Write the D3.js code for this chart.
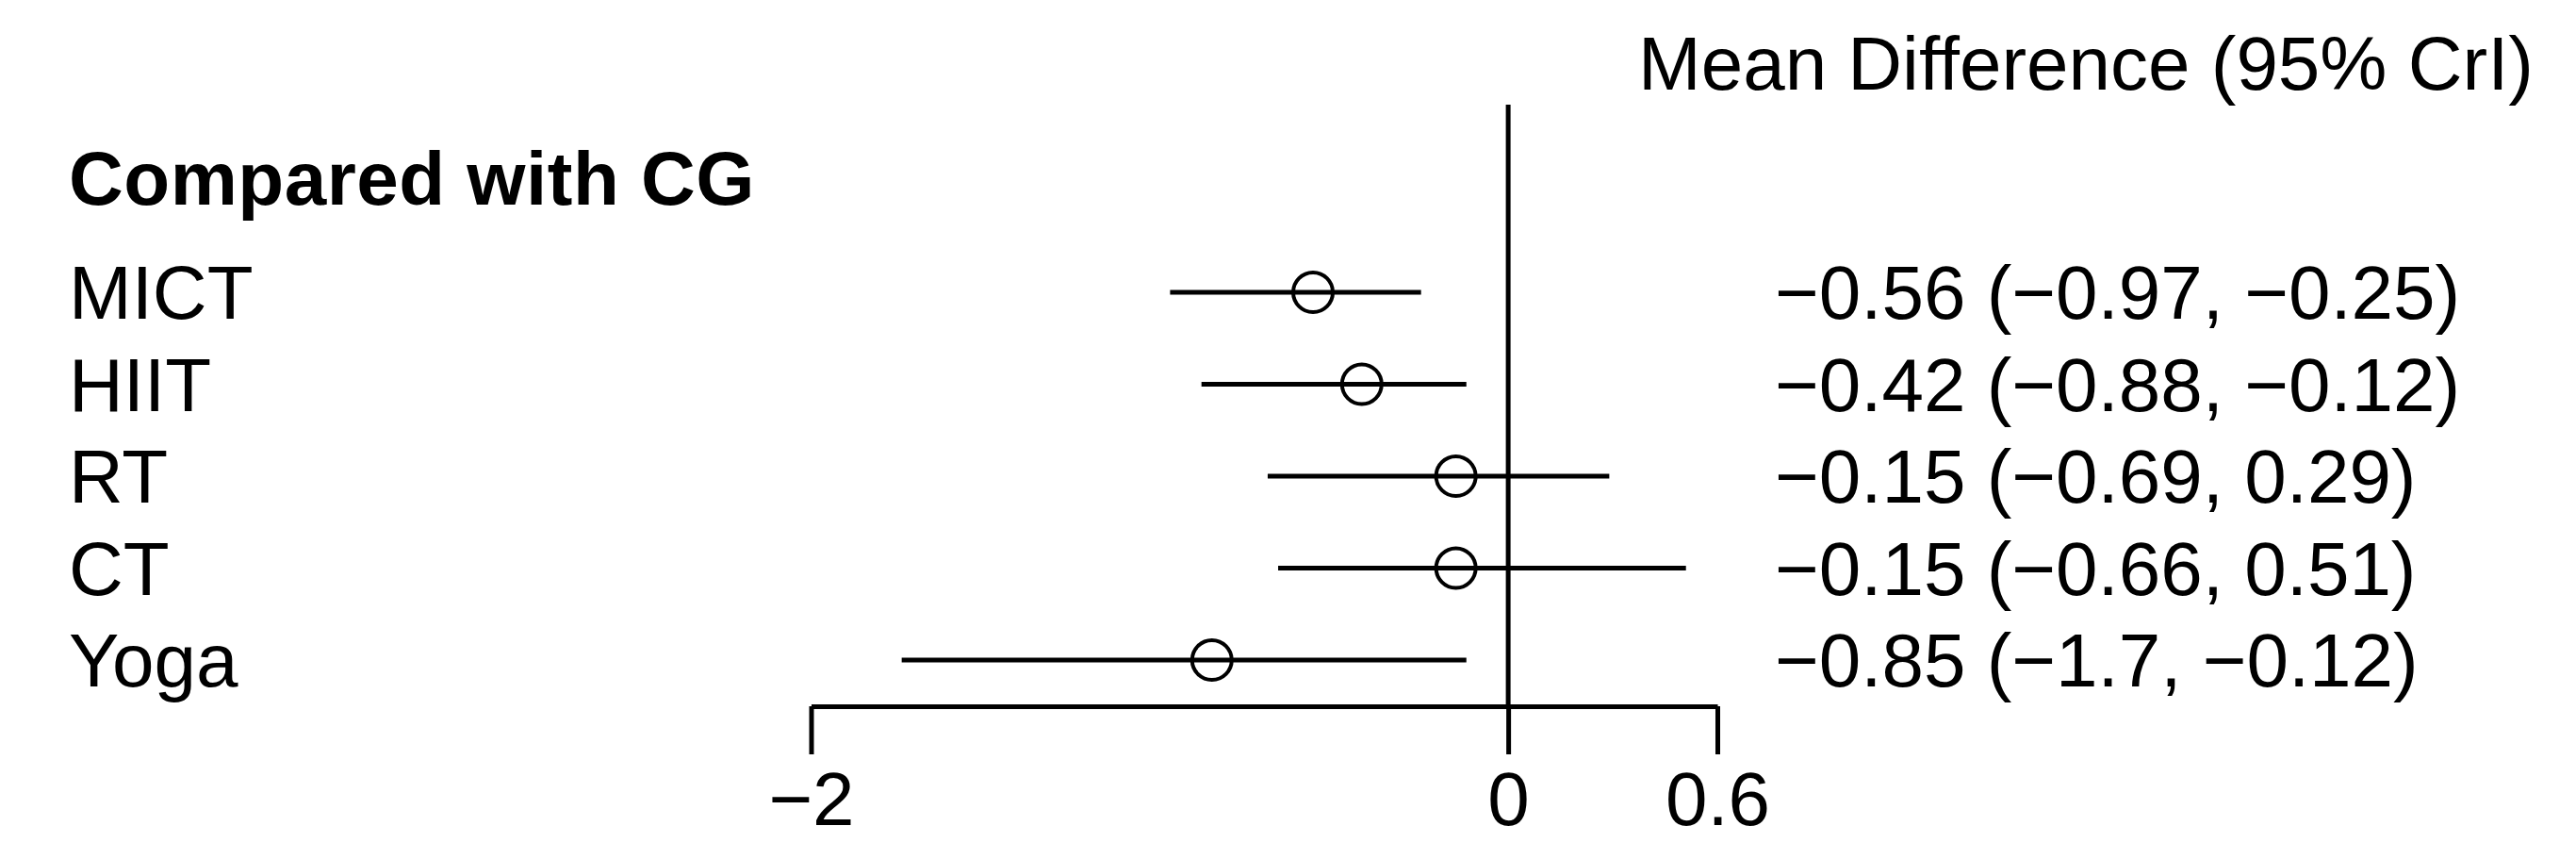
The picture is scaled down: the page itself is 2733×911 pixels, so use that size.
<!DOCTYPE html>
<html>
<head>
<meta charset="utf-8">
<script src="https://cdn.jsdelivr.net/npm/d3@7"></script>
<style>
body { margin: 0; background: #fff; }
text { font-family: "Liberation Sans", Arial, sans-serif; fill: #000; }
</style>
</head>
<body>
<svg></svg>
<script>
var groups = ["MICT", "HIIT", "RT", "CT", "Yoga"];
var estimates = [-0.56, -0.42, -0.15, -0.15, -0.85];
var lowers = [-0.97, -0.88, -0.69, -0.66, -1.74];
var uppers = [-0.25, -0.12, 0.29, 0.51, -0.12];
var estLabels = ["\u22120.56 (\u22120.97, \u22120.25)", "\u22120.42 (\u22120.88, \u22120.12)",
  "\u22120.15 (\u22120.69, 0.29)", "\u22120.15 (\u22120.66, 0.51)", "\u22120.85 (\u22121.7, \u22120.12)"];
var tickValues = [-2, 0, 0.6];
var tickLabels = ["\u22122", "0", "0.6"];
var sectionTitle = "Compared with CG";
var columnTitle = "Mean Difference (95% CrI)";

var screen = {width: 2733, height: 911}
var fontSize = 80

var svg = d3.select("svg")
    .attr("width", screen.width)
    .attr("height", screen.height)

var xScale = d3.scaleLinear()
    .domain([-2, 0.6])
    .range([860.5, 1822])

var yScale = d3.scalePoint()
    .domain(groups)
    .range([310, 700])

var rows = groups.map(function(g, i)
{
    return {name: g, est: estimates[i], lo: lowers[i], hi: uppers[i], label: estLabels[i]}
})

// headers
svg.append("text")
    .attr("x", 73).attr("y", 217)
    .attr("font-size", fontSize).attr("font-weight", "bold")
    .attr("letter-spacing", 0.5)
    .text(sectionTitle)

svg.append("text")
    .attr("x", 1738).attr("y", 95)
    .attr("font-size", fontSize)
    .text(columnTitle)

// zero line
svg.append("line")
    .attr("x1", xScale(0)).attr("x2", xScale(0))
    .attr("y1", 111).attr("y2", 749)
    .attr("stroke", "#000").attr("stroke-width", 5)

// x axis
var axis = svg.append("g")
    .attr("transform", "translate(0,749)")
    .call(d3.axisBottom(xScale)
        .tickValues(tickValues)
        .tickFormat(function(d, i) { return tickLabels[i] })
        .tickSize(51)
        .tickSizeOuter(0)
        .tickPadding(18))
axis.select(".domain").attr("stroke", "#000").attr("stroke-width", 5)
axis.selectAll(".tick line").attr("stroke", "#000").attr("stroke-width", 5)
axis.selectAll(".tick text")
    .attr("font-size", fontSize)
    .attr("font-family", "Liberation Sans, Arial, sans-serif")
    .attr("fill", "#000")

var row = svg.selectAll(".row")
    .data(rows)
    .enter()
    .append("g").attr("class", "row")

row.append("text")
    .attr("x", 73)
    .attr("y", function(d) { return yScale(d.name) + 28 })
    .attr("font-size", fontSize)
    .text(function(d) { return d.name })

row.append("line")
    .attr("x1", function(d) { return xScale(d.lo) })
    .attr("x2", function(d) { return xScale(d.hi) })
    .attr("y1", function(d) { return yScale(d.name) })
    .attr("y2", function(d) { return yScale(d.name) })
    .attr("stroke", "#000").attr("stroke-width", 5)

row.append("circle")
    .attr("cx", function(d) { return xScale(d.est) })
    .attr("cy", function(d) { return yScale(d.name) })
    .attr("r", 21)
    .attr("fill", "none")
    .attr("stroke", "#000").attr("stroke-width", 4)

row.append("text")
    .attr("x", 1883)
    .attr("y", function(d) { return yScale(d.name) + 28 })
    .attr("font-size", fontSize)
    .text(function(d) { return d.label })
</script>
</body>
</html>
